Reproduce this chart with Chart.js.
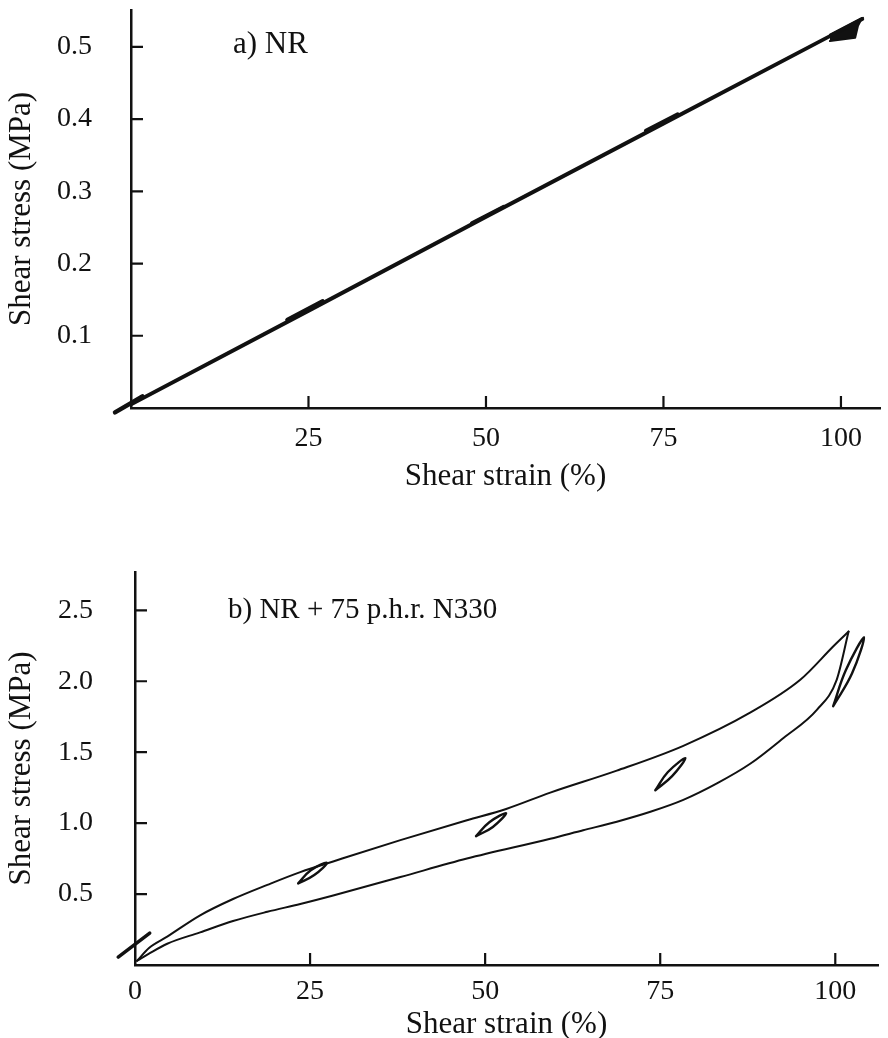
<!DOCTYPE html>
<html><head><meta charset="utf-8">
<script src="https://cdn.jsdelivr.net/npm/chart.js@4/dist/chart.umd.min.js"></script>
<style>
html,body{margin:0;padding:0;background:#fff;}
#wrapA{position:absolute;left:0;top:0;width:888px;height:520px;}
#wrapB{position:absolute;left:0;top:520px;width:888px;height:518px;}
</style></head><body>
<div id="wrapA"><canvas id="cA"></canvas></div>
<div id="wrapB"><canvas id="cB"></canvas></div>
<script>
// ---------- text ----------
const panelALabel = 'a) NR';
const panelBLabel = 'b) NR + 75 p.h.r. N330';
const xTitle = 'Shear strain (%)';
const yTitle = 'Shear stress (MPa)';

// ---------- ticks ----------
const aXTicks = [25, 50, 75, 100];
const aXTickLabels = ['25', '50', '75', '100'];
const aYTicks = [0.1, 0.2, 0.3, 0.4, 0.5];
const aYTickLabels = ['0.1', '0.2', '0.3', '0.4', '0.5'];
const bXTicks = [0, 25, 50, 75, 100];
const bXTickLabels = ['0', '25', '50', '75', '100'];
const bYTicks = [0.5, 1.0, 1.5, 2.0, 2.5];
const bYTickLabels = ['0.5', '1.0', '1.5', '2.0', '2.5'];

// ---------- a) NR ----------
const nrLoadStrain = [0, 25, 50, 75, 103.1];
const nrLoadStress = [0.006, 0.136, 0.266, 0.395, 0.540];
const nrUnloadStrain = [103.1, 75, 50, 25, 0];
const nrUnloadStress = [0.538, 0.3925, 0.2635, 0.1335, 0.004];
const nrDyn0Strain = [-2.25, 1.6];
const nrDyn0Stress = [-0.006, 0.016];
const nrDyn25Strain = [22, 27];
const nrDyn25Stress = [0.122, 0.148];
const nrDyn50Strain = [48, 52.5];
const nrDyn50Stress = [0.256, 0.279];
const nrDyn75Strain = [72.5, 77];
const nrDyn75Stress = [0.384, 0.407];
const nrDyn100Strain = [98.45, 102.96, 102.4, 102.0, 98.45];
const nrDyn100Stress = [0.517, 0.540, 0.529, 0.5125, 0.508];

// ---------- b) NR + 75 phr N330 ----------
const cbLoadStrain = [0.3, 2, 4.6, 9.3, 14, 18.9, 23.6, 28.3, 37.9, 47.4, 53, 59.3, 68.8, 78.3, 87.9, 95, 99.8, 101.9];
const cbLoadStress = [0.03, 0.12, 0.2, 0.35, 0.465, 0.565, 0.655, 0.73, 0.88, 1.02, 1.10, 1.215, 1.37, 1.545, 1.78, 2.01, 2.25, 2.35];
const cbUnloadStrain = [0.3, 2, 4.6, 9.3, 14, 18.9, 23.6, 28.3, 37.9, 47.4, 59.3, 64, 68.8, 73.6, 78.3, 83.1, 87.9, 92.6, 97.4, 100.2, 101.9];
const cbUnloadStress = [0.03, 0.08, 0.15, 0.23, 0.31, 0.375, 0.43, 0.49, 0.62, 0.75, 0.89, 0.95, 1.01, 1.08, 1.164, 1.28, 1.42, 1.60, 1.80, 2.01, 2.35];
const cbDyn0Strain = [-2.4, 2.1];
const cbDyn0Stress = [0.056, 0.225];
const cbDyn25Strain = [23.3, 25.1, 27.4, 25.6, 23.3];
const cbDyn25Stress = [0.575, 0.668, 0.72, 0.634, 0.575];
const cbDyn50Strain = [48.7, 50.6, 53.0, 51.1, 48.7];
const cbDyn50Stress = [0.908, 1.006, 1.07, 0.973, 0.908];
const cbDyn75Strain = [74.3, 76.1, 78.6, 76.7, 74.3];
const cbDyn75Stress = [1.232, 1.36, 1.458, 1.331, 1.232];
const cbDyn100Strain = [99.7, 101.5, 104.1, 102.4, 99.7];
const cbDyn100Stress = [1.824, 2.077, 2.31, 2.056, 1.824];

// ---------- helpers ----------
const INK = '#111';
const SERIF = '"Liberation Serif", "Times New Roman", serif';
const pts = (xs, ys) => xs.map((x, i) => ({x: x, y: ys[i]}));
function line(xs, ys, w, extra) {
  return Object.assign({
    data: pts(xs, ys), showLine: true, borderColor: INK, backgroundColor: INK,
    borderWidth: w, pointRadius: 0, tension: 0, clip: false, fill: false,
    borderJoinStyle: 'round', borderCapStyle: 'round'
  }, extra || {});
}

const decorPlugin = {
  id: 'decor',
  afterDraw(chart, args, o) {
    const ctx = chart.ctx, xs = chart.scales.x, ys = chart.scales.y;
    ctx.save();
    ctx.strokeStyle = INK; ctx.lineWidth = 2.2; ctx.lineCap = 'butt';
    ctx.beginPath();
    o.xTicks.forEach(v => {
      if (v === 0) return;
      const px = xs.getPixelForValue(v);
      ctx.moveTo(px, ys.bottom); ctx.lineTo(px, ys.bottom - o.len);
    });
    o.yTicks.forEach(v => {
      const py = ys.getPixelForValue(v);
      ctx.moveTo(xs.left, py); ctx.lineTo(xs.left + o.len, py);
    });
    ctx.stroke();
    ctx.fillStyle = INK;
    ctx.font = o.labelSize + 'px ' + SERIF;
    ctx.textBaseline = 'alphabetic';
    ctx.textAlign = 'left';
    ctx.fillText(o.label, o.labelX, o.labelY);
    ctx.restore();
  }
};

function makeChart(id, cfg) {
  return new Chart(document.getElementById(id), {
    type: 'scatter',
    data: {datasets: cfg.datasets},
    plugins: [decorPlugin],
    options: {
      responsive: true, maintainAspectRatio: false, animation: false,
      layout: {padding: {top: cfg.padTop, right: cfg.padRight, left: 0, bottom: 0}},
      plugins: {
        legend: {display: false}, tooltip: {enabled: false},
        decor: {xTicks: cfg.xTicks, yTicks: cfg.yTicks, len: 12, label: cfg.label,
                labelX: cfg.labelX, labelY: cfg.labelY, labelSize: cfg.labelSize}
      },
      scales: {
        x: {
          type: 'linear', min: cfg.xMin, max: cfg.xMax,
          afterBuildTicks: s => { s.ticks = cfg.xTicks.map(v => ({value: v})); },
          afterFit: s => { s.height = cfg.xAxisH; s.paddingLeft = 0; s.paddingRight = 0; },
          grid: {display: false, drawTicks: false},
          border: {display: true, color: INK, width: 2.5},
          ticks: {color: INK, padding: cfg.xTickPad, maxRotation: 0, autoSkip: false,
                  font: {family: SERIF, size: 28},
                  callback: (v, i) => cfg.xTickLabels[i]},
          title: {display: true, text: xTitle, color: INK,
                  font: {family: SERIF, size: 31, lineHeight: 1},
                  padding: {top: 0, bottom: cfg.xTitlePad}}
        },
        y: {
          type: 'linear', min: cfg.yMin, max: cfg.yMax,
          afterBuildTicks: s => { s.ticks = cfg.yTicks.map(v => ({value: v})); },
          afterFit: s => { s.width = cfg.yAxisW; s.paddingTop = 0; s.paddingBottom = 0; },
          grid: {display: false, drawTicks: false},
          border: {display: true, color: INK, width: 2.5},
          ticks: {color: INK, padding: cfg.yTickPad, autoSkip: false,
                  font: {family: SERIF, size: 28},
                  callback: (v, i) => cfg.yTickLabels[i]},
          title: {display: true, text: yTitle, color: INK,
                  font: {family: SERIF, size: 31, lineHeight: 1},
                  padding: {top: 6.5, bottom: 0}}
        }
      }
    }
  });
}

// ---------- chart a ----------
makeChart('cA', {
  datasets: [
    line(nrLoadStrain, nrLoadStress, 2.4),
    line(nrUnloadStrain, nrUnloadStress, 2.4),
    line(nrDyn0Strain, nrDyn0Stress, 4.5),
    line(nrDyn25Strain, nrDyn25Stress, 4),
    line(nrDyn50Strain, nrDyn50Stress, 3.5),
    line(nrDyn75Strain, nrDyn75Stress, 3.5),
    line(nrDyn100Strain, nrDyn100Stress, 2, {fill: 'shape'})
  ],
  xTicks: aXTicks, xTickLabels: aXTickLabels, yTicks: aYTicks, yTickLabels: aYTickLabels,
  xMin: 0, xMax: 105.5, yMin: 0, yMax: 0.551,
  padTop: 10, padRight: 8, xAxisH: 112, yAxisW: 131,
  xTickPad: 14, yTickPad: 39, xTitlePad: 27.5,
  label: panelALabel, labelX: 233, labelY: 53, labelSize: 31
});

// ---------- chart b ----------
makeChart('cB', {
  datasets: [
    line(cbLoadStrain, cbLoadStress, 2, {cubicInterpolationMode: 'monotone'}),
    line(cbUnloadStrain, cbUnloadStress, 2, {cubicInterpolationMode: 'monotone'}),
    line(cbDyn0Strain, cbDyn0Stress, 3.5),
    line(cbDyn25Strain, cbDyn25Stress, 2.4, {tension: 0.4}),
    line(cbDyn50Strain, cbDyn50Stress, 2.4, {tension: 0.4}),
    line(cbDyn75Strain, cbDyn75Stress, 2.4, {tension: 0.4}),
    line(cbDyn100Strain, cbDyn100Stress, 2.4, {tension: 0.4})
  ],
  xTicks: bXTicks, xTickLabels: bXTickLabels, yTicks: bYTicks, yTickLabels: bYTickLabels,
  xMin: 0, xMax: 106.1, yMin: 0, yMax: 2.77,
  padTop: 52, padRight: 10, xAxisH: 73, yAxisW: 135,
  xTickPad: 10, yTickPad: 42, xTitlePad: -2.5,
  label: panelBLabel, labelX: 228, labelY: 98, labelSize: 29
});
</script>
</body></html>
